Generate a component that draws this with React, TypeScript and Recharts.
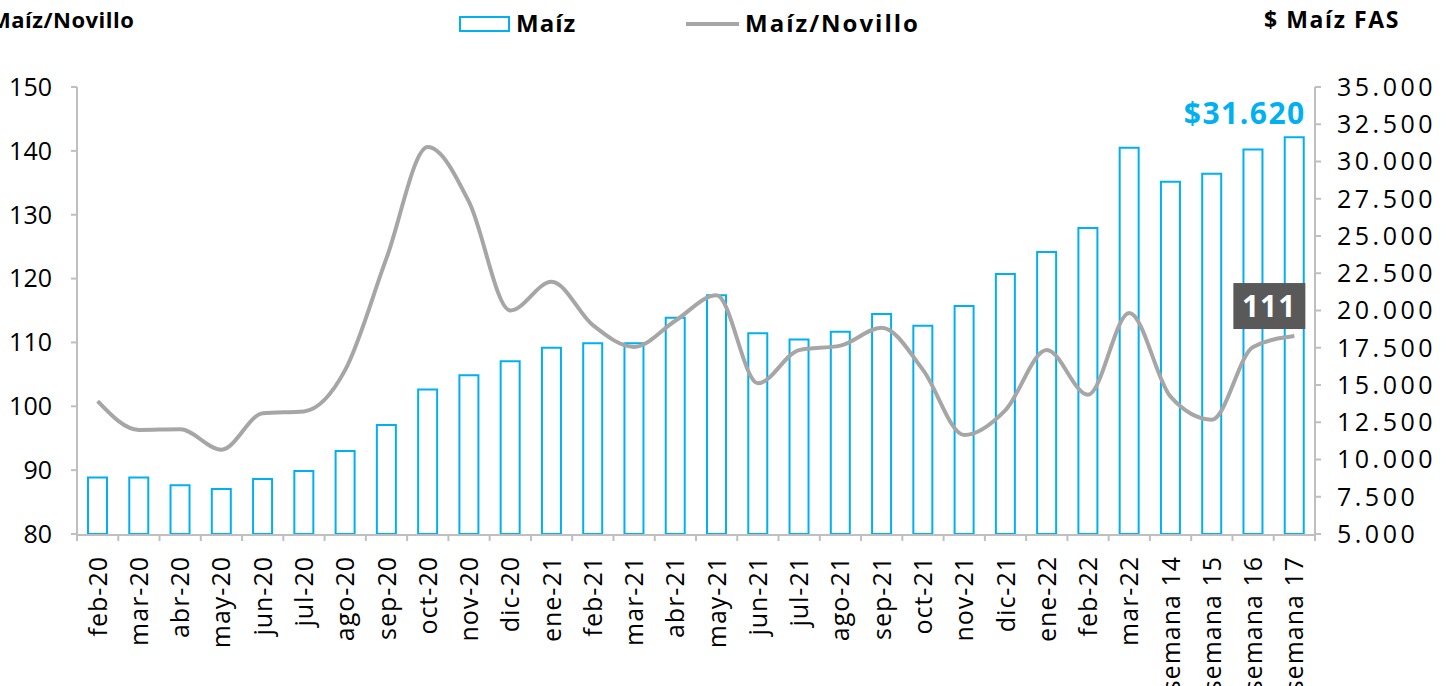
import { ComposedChart, Bar, Line, XAxis, YAxis, LabelList } from "recharts";

const categories = [
  "feb-20", "mar-20", "abr-20", "may-20", "jun-20", "jul-20", "ago-20", "sep-20",
  "oct-20", "nov-20", "dic-20", "ene-21", "feb-21", "mar-21", "abr-21", "may-21",
  "jun-21", "jul-21", "ago-21", "sep-21", "oct-21", "nov-21", "dic-21", "ene-22",
  "feb-22", "mar-22", "semana 14", "semana 15", "semana 16", "semana 17",
];

// $ Maíz FAS (right axis)
const maiz = [
  8800, 8800, 8270, 8020, 8690, 9230, 10570, 12310,
  14700, 15650, 16590, 17500, 17800, 17800, 19510, 21020,
  18470, 18060, 18570, 19760, 18980, 20300, 22450, 23920,
  25530, 30930, 28640, 29180, 30800, 31620,
];

// Maíz/Novillo (left axis)
const maizNovillo = [
  100.8, 96.3, 96.4, 93.2, 98.9, 99.2, 105.7, 123.2,
  140.6, 132, 115, 119.5, 112.7, 109.3, 113.4, 117.4,
  103.6, 108.8, 109.5, 112.3, 105.7, 95.5, 99.4, 108.8,
  101.8, 114.6, 101.5, 97.9, 109.3, 111,
];

const leftTicks = [80, 90, 100, 110, 120, 130, 140, 150];
const rightTicks = [5000, 7500, 10000, 12500, 15000, 17500, 20000, 22500, 25000, 27500, 30000, 32500, 35000];
// category boundaries, where the x-axis tick marks sit
const boundaryTicks = categories.map((_, i) => i).concat(categories.length);

const data = categories.map((c, i) => ({ cat: c, idx: i + 0.5, maiz: maiz[i], ratio: maizNovillo[i] }));
const last = categories.length - 1;

const FONT = "'Open Sans', sans-serif";
const BLUE = "#00B0F0";
const GREY = "#A6A6A6";
const AXIS = "#BFBFBF";

const fmt = (v: number) => v.toLocaleString("de-DE");

function XTick(props: any) {
  const { x, y, payload } = props;
  return (
    <text
      x={x}
      y={y}
      transform={`rotate(-90, ${x}, ${y})`}
      dx={-13}
      dy={9}
      textAnchor="end"
      fontSize={25}
      fontFamily={FONT}
      fill="#000"
      letterSpacing={1}
    >
      {payload.value}
    </text>
  );
}

function PriceLabel(props: any) {
  const { x, y, width, index } = props;
  if (index !== last) return null;
  return (
    <text
      x={x + width + 2}
      y={y - 13}
      textAnchor="end"
      fontSize={30}
      fontWeight={700}
      fontFamily={FONT}
      fill={BLUE}
      letterSpacing={1.5}
    >
      $31.620
    </text>
  );
}

function RatioLabel(props: any) {
  const { x, y, index, value } = props;
  if (index !== last) return null;
  return (
    <g>
      <rect x={x - 61} y={y - 53} width={72} height={46} fill="#595959" />
      <text
        x={x + 2}
        y={y - 19}
        textAnchor="end"
        fontSize={30}
        fontWeight={700}
        fontFamily={FONT}
        fill="#fff"
        letterSpacing={1}
      >
        {Math.round(value)}
      </text>
    </g>
  );
}

export default function App() {
  return (
    <div style={{ position: "absolute", left: 0, top: 0, width: 1453, height: 686, overflow: "hidden", background: "#fff", fontFamily: FONT }}>
      <div style={{ position: "absolute", left: -10, top: 4, fontSize: 22, fontWeight: 700, letterSpacing: 0.5 }}>
        Maíz/Novillo
      </div>
      <div style={{ position: "absolute", left: 1264, top: 3, fontSize: 23, fontWeight: 700, letterSpacing: 1.6 }}>
        $ Maíz FAS
      </div>
      <div style={{ position: "absolute", left: 459, top: 16, width: 47, height: 12, border: `2px solid ${BLUE}` }} />
      <div style={{ position: "absolute", left: 516, top: 6, fontSize: 24, fontWeight: 700, letterSpacing: 1 }}>Maíz</div>
      <div style={{ position: "absolute", left: 686, top: 22, width: 53, height: 4, background: GREY }} />
      <div style={{ position: "absolute", left: 745, top: 6, fontSize: 24, fontWeight: 700, letterSpacing: 2 }}>Maíz/Novillo</div>

      <ComposedChart
        width={1453}
        height={686}
        data={data}
        margin={{ top: 87, right: 0, bottom: 0, left: 0 }}
        barCategoryGap={0}
      >
        <XAxis
          xAxisId="b"
          type="number"
          dataKey="idx"
          domain={[0, categories.length]}
          ticks={boundaryTicks}
          interval={0}
          height={1}
          tick={{ fill: "transparent", fontSize: 1 }}
          tickSize={7}
          axisLine={false}
          tickLine={{ stroke: AXIS, strokeWidth: 2 }}
        />
        <XAxis
          dataKey="cat"
          xAxisId="x"
          interval={0}
          height={151}
          tick={<XTick />}
          tickLine={false}
          axisLine={{ stroke: AXIS, strokeWidth: 2 }}
        />
        <YAxis
          yAxisId="left"
          orientation="left"
          width={77}
          domain={[80, 150]}
          ticks={leftTicks}
          interval={0}
          tickSize={6}
          tickMargin={19}
          tick={{ fontSize: 25, fill: "#000", fontFamily: FONT }}
          axisLine={{ stroke: AXIS, strokeWidth: 2 }}
          tickLine={{ stroke: AXIS, strokeWidth: 2 }}
        />
        <YAxis
          yAxisId="right"
          orientation="right"
          width={138}
          domain={[5000, 35000]}
          ticks={rightTicks}
          interval={0}
          tickSize={6}
          tickMargin={16}
          tickFormatter={fmt}
          tick={{ fontSize: 25, fill: "#000", fontFamily: FONT, letterSpacing: 3.5 }}
          axisLine={{ stroke: AXIS, strokeWidth: 2 }}
          tickLine={{ stroke: AXIS, strokeWidth: 2 }}
        />
        <Bar
          dataKey="maiz"
          xAxisId="x"
          yAxisId="right"
          barSize={19}
          fill="#fff"
          stroke={BLUE}
          strokeWidth={2}
          isAnimationActive={false}
        >
          <LabelList dataKey="maiz" content={<PriceLabel />} />
        </Bar>
        <Line
          dataKey="ratio"
          xAxisId="x"
          yAxisId="left"
          type="monotone"
          stroke={GREY}
          strokeWidth={4}
          dot={false}
          activeDot={false}
          isAnimationActive={false}
        >
          <LabelList dataKey="ratio" content={<RatioLabel />} />
        </Line>
      </ComposedChart>
    </div>
  );
}
